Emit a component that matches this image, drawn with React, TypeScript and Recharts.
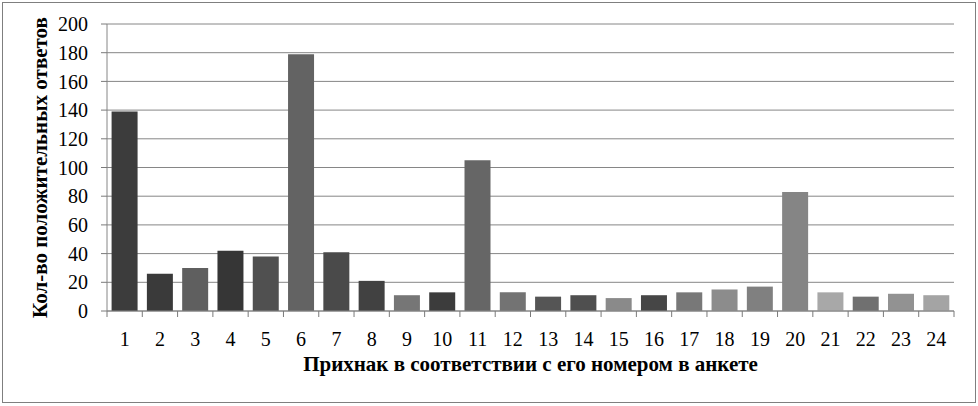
import React from 'react';
import { BarChart, Bar, XAxis, YAxis, CartesianGrid, Cell } from 'recharts';

const categories = ['1', '2', '3', '4', '5', '6', '7', '8', '9', '10', '11', '12', '13', '14', '15', '16', '17', '18', '19', '20', '21', '22', '23', '24'];
const positiveAnswers = [139, 26, 30, 42, 38, 179, 41, 21, 11, 13, 105, 13, 10, 11, 9, 11, 13, 15, 17, 83, 13, 10, 12, 11];
const yTicks = [0, 20, 40, 60, 80, 100, 120, 140, 160, 180, 200];

const barColors = [
  '#3c3c3c', '#3a3a3a', '#5f5f5f', '#363636', '#505050', '#636363', '#4a4a4a', '#414141',
  '#767676', '#3c3c3c', '#666666', '#737373', '#555555', '#4f4f4f', '#8a8a8a', '#464646',
  '#787878', '#8c8c8c', '#808080', '#858585', '#a8a8a8', '#707070', '#929292', '#a4a4a4',
];

const data = categories.map((c, i) => ({ name: c, value: positiveAnswers[i] }));

const serif = '"Liberation Serif", "Times New Roman", serif';
const lineColor = '#868686';
const X_TICK_SIZE = 6;
const X_TICK_MARGIN = 15;

// label in the middle of the band, tick marks on the band edges (like Excel)
const CategoryTick = (props: any) => {
  const { x, y, payload, index, visibleTicksCount } = props;
  const half = payload.offset || 0;
  const axisY = y - X_TICK_SIZE - X_TICK_MARGIN;
  const isLast = index === visibleTicksCount - 1;
  return (
    <g>
      <line x1={x - half} x2={x - half} y1={axisY} y2={axisY + X_TICK_SIZE} stroke="#7a7a7a" />
      {isLast && <line x1={x + half} x2={x + half} y1={axisY} y2={axisY + X_TICK_SIZE} stroke="#7a7a7a" />}
      <text x={x} y={y} dy="0.71em" textAnchor="middle" fill="#000" fontSize={20} fontFamily={serif}>
        {payload.value}
      </text>
    </g>
  );
};

const App: React.FC = () => {
  return (
    <div style={{ position: 'absolute', left: 0, top: 0, width: 978, height: 406, background: '#fff' }}>
      <div style={{ position: 'absolute', left: 2, top: 2, width: 972, height: 399, border: '1px solid #7f7f7f' }} />
      <div style={{ position: 'absolute', left: 0, top: 0 }}>
        <BarChart
          width={978}
          height={406}
          data={data}
          margin={{ top: 24, right: 24, left: 20, bottom: 24 }}
          barCategoryGap="13%"
        >
          <CartesianGrid vertical={false} stroke={lineColor} />
          <XAxis
            dataKey="name"
            height={71}
            axisLine={{ stroke: lineColor }}
            tickLine={false}
            tickSize={X_TICK_SIZE}
            tickMargin={X_TICK_MARGIN}
            interval={0}
            tick={<CategoryTick />}
            label={{
              value: 'Прихнак в соответствии с его номером в анкете',
              position: 'insideBottom',
              offset: 11,
              style: { fill: '#000', fontSize: 21, fontWeight: 'bold', fontFamily: serif },
            }}
          />
          <YAxis
            width={87}
            domain={[0, 200]}
            ticks={yTicks}
            interval={0}
            tickSize={6}
            tickMargin={13}
            axisLine={{ stroke: lineColor }}
            tickLine={{ stroke: '#7a7a7a' }}
            tick={{ fill: '#000', fontSize: 20, fontFamily: serif }}
            label={{
              value: 'Кол-во положительных ответов',
              angle: -90,
              position: 'insideLeft',
              offset: 20,
              style: { textAnchor: 'middle', fill: '#000', fontSize: 21, fontWeight: 'bold', fontFamily: serif },
            }}
          />
          <Bar dataKey="value" isAnimationActive={false}>
            {data.map((d, i) => (
              <Cell key={d.name} fill={barColors[i]} />
            ))}
          </Bar>
        </BarChart>
      </div>
    </div>
  );
};

export default App;
